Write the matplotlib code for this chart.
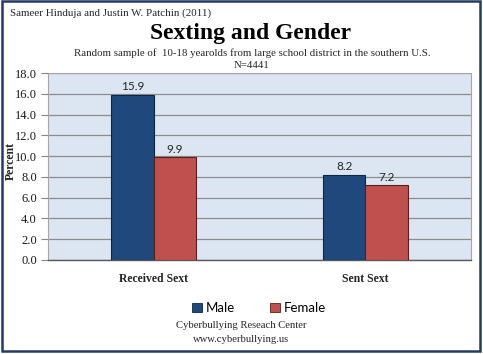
import matplotlib
matplotlib.use("Agg")
import matplotlib.pyplot as plt
import numpy as np
from matplotlib.patches import Rectangle, Patch

categories = ["Received Sext", "Sent Sext"]
male = [15.9, 8.2]
female = [9.9, 7.2]
series_names = ["Male", "Female"]
yticks = [0, 2, 4, 6, 8, 10, 12, 14, 16, 18]

W, H = 483, 354
fig = plt.figure(figsize=(W / 100, H / 100), dpi=100)
fig.patch.set_facecolor("white")

serif = ["Liberation Serif", "DejaVu Serif"]
sans = ["Lato", "DejaVu Sans"]
male_c = "#1f497d"
female_c = "#c0504d"

ax = fig.add_axes([48 / W, 1 - 260 / H, (471 - 48) / W, (260 - 73) / H])
ax.set_facecolor("#dce6f2")
x = np.arange(len(categories))
bw = 0.2
ax.bar(x - bw / 2, male, bw, color=male_c, edgecolor="#10253f", linewidth=0.8, zorder=3)
ax.bar(x + bw / 2, female, bw, color=female_c, edgecolor="#5a1f1d", linewidth=0.8, zorder=3)
for i in range(len(categories)):
    ax.text(x[i] - bw / 2, male[i] + 0.25, f"{male[i]:.1f}", ha="center", va="bottom",
            fontsize=8.5, family=sans, color="#262626", zorder=4)
    ax.text(x[i] + bw / 2, female[i] + 0.25, f"{female[i]:.1f}", ha="center", va="bottom",
            fontsize=8.5, family=sans, color="#262626", zorder=4)

ax.set_xlim(-0.5, 1.5)
ax.set_ylim(0, 18)
ax.set_yticks(yticks)
ax.set_yticklabels([f"{v:.1f}" for v in yticks], family=serif, fontsize=9, color="#1a1a1a")
ax.set_xticks(x)
ax.set_xticklabels(categories, family=serif, fontsize=8.5, fontweight="bold", color="#262626")
ax.tick_params(axis="x", length=0, pad=9)
ax.tick_params(axis="y", length=5, width=0.8, color="#868686", pad=3)
ax.yaxis.grid(True, color="#8c8c8c", linewidth=0.9, zorder=1)
ax.set_axisbelow(True)
for s in ["top", "right", "left"]:
    ax.spines[s].set_color("#a6a6a6")
    ax.spines[s].set_linewidth(0.8)
ax.spines["bottom"].set_color("#595959")
ax.spines["bottom"].set_linewidth(1.0)
ax.set_ylabel("Percent", family=serif, fontsize=8.5, fontweight="bold", color="#262626")
ax.yaxis.set_label_coords((17 - 48) / 423, 0.53)

fig.text(10 / W, 1 - 13 / H, "Sameer Hinduja and Justin W. Patchin (2011)", family=serif,
         fontsize=7.9, va="center", ha="left", color="#262626")
fig.text(251 / W, 1 - 33 / H, "Sexting and Gender", family=serif, fontsize=17, fontweight="bold",
         va="center", ha="center", color="black")
fig.text(252 / W, 1 - 53 / H, "Random sample of  10-18 yearolds from large school district in the southern U.S.",
         family=serif, fontsize=7.8, va="center", ha="center", color="#262626")
fig.text(252 / W, 1 - 65 / H, "N=4441", family=serif, fontsize=7.8, va="center", ha="center", color="#262626")

handles = [Patch(facecolor=male_c, edgecolor="#10253f", linewidth=0.6),
           Patch(facecolor=female_c, edgecolor="#5a1f1d", linewidth=0.6)]
fig.legend(handles, series_names, loc="center", bbox_to_anchor=(259 / W, 1 - 308 / H), ncol=2,
           frameon=False, prop={"family": sans, "size": 9.5}, handlelength=0.75, handleheight=0.75,
           handletextpad=0.3, columnspacing=2.6)

fig.text(241 / W, 1 - 326 / H, "Cyberbullying Reseach Center", family=serif, fontsize=7.7,
         va="center", ha="center", color="#262626")
fig.text(241 / W, 1 - 339 / H, "www.cyberbullying.us", family=serif, fontsize=7.7,
         va="center", ha="center", color="#262626")

fig.patches.append(Rectangle((1.5 / W, 1 - 351 / H), 478.5 / W, 350 / H, transform=fig.transFigure,
                             fill=False, edgecolor="#243a66", linewidth=1.8))

fig.savefig("out.png", dpi=100)
